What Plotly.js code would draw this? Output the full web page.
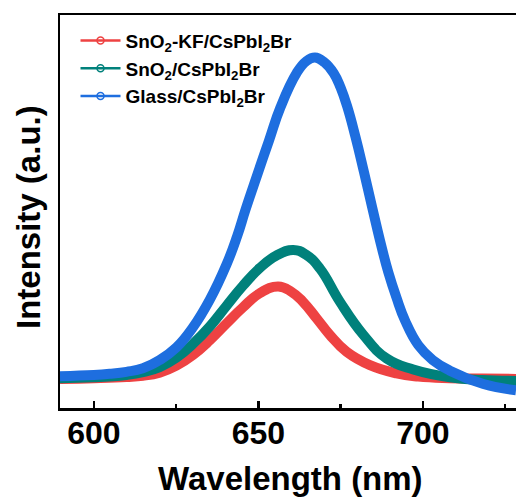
<!DOCTYPE html>
<html>
<head>
<meta charset="utf-8">
<script src="https://cdn.plot.ly/plotly-3.0.1.min.js"></script>
<style>html,body{margin:0;padding:0;background:#fff;}#chart{width:516px;height:497px;}</style>
</head>
<body>
<div id="chart"></div>
<script>
// Wavelength (nm) and PL intensity (a.u., normalized to plot height)
const names = ["SnO<sub>2</sub>-KF/CsPbI<sub>2</sub>Br", "SnO<sub>2</sub>/CsPbI<sub>2</sub>Br", "Glass/CsPbI<sub>2</sub>Br"];
const colors = ["#EE4242", "#00817B", "#1E6EDF"];

const redX = [589.7, 600.0, 609.9, 614.9, 620.0, 625.1, 630.1, 635.2, 640.3, 645.3, 650.4, 656.0, 660.0, 663.6, 667.7, 671.7, 676.8, 683.9, 692.0, 698.6, 708.2, 718.0, 728.3];
const redY = [0.074, 0.076, 0.079, 0.082, 0.090, 0.108, 0.135, 0.172, 0.215, 0.256, 0.292, 0.309, 0.296, 0.270, 0.228, 0.186, 0.143, 0.109, 0.088, 0.080, 0.076, 0.075, 0.074];

const greenX = [589.7, 600.0, 609.9, 614.9, 620.0, 625.1, 630.1, 635.2, 640.3, 645.3, 650.4, 655.5, 660.6, 664.5, 668.7, 674.8, 681.9, 689.0, 697.1, 708.2, 718.0, 728.3];
const greenY = [0.076, 0.078, 0.084, 0.091, 0.104, 0.128, 0.163, 0.207, 0.260, 0.311, 0.356, 0.388, 0.402, 0.390, 0.355, 0.270, 0.186, 0.126, 0.098, 0.078, 0.071, 0.069];

const blueX = [589.7, 600.0, 604.8, 609.9, 614.9, 620.0, 625.1, 630.1, 635.2, 640.3, 643.5, 646.1, 649.6, 653.2, 656.7, 661.6, 664.5, 667.2, 670.0, 672.9, 675.0, 677.0, 679.5, 682.1, 684.6, 687.0, 689.5, 692.0, 694.6, 698.6, 703.0, 708.2, 718.4, 728.3];
const blueY = [0.081, 0.084, 0.087, 0.092, 0.101, 0.122, 0.154, 0.205, 0.275, 0.365, 0.436, 0.505, 0.592, 0.680, 0.765, 0.852, 0.882, 0.892, 0.880, 0.852, 0.815, 0.767, 0.690, 0.600, 0.510, 0.425, 0.345, 0.280, 0.222, 0.160, 0.122, 0.095, 0.061, 0.045];

const xTickVals = [600, 650, 700];
const xTickText = ["600", "650", "700"];
const xTitle = "Wavelength (nm)";
const yTitle = "Intensity (a.u.)";

const seriesX = [redX, greenX, blueX];
const seriesY = [redY, greenY, blueY];

const FONT = "Arial, 'Liberation Sans', sans-serif";
const traces = [];
for (let i = 0; i < 3; i++) {
  traces.push({
    x: seriesX[i], y: seriesY[i], type: "scatter", mode: "lines",
    line: {color: colors[i], width: 10, shape: "spline", smoothing: 1.3},
    showlegend: false, hoverinfo: "skip"
  });
}
for (let i = 0; i < 3; i++) {
  traces.push({
    x: [null], y: [null], type: "scatter", mode: "lines+markers",
    name: names[i], legendgroup: "g" + i,
    line: {color: colors[i], width: 2.5},
    marker: {symbol: "circle-open", size: 7, color: colors[i], line: {width: 1.5, color: colors[i]}}
  });
}

const titleFont = {family: FONT, size: 33, weight: "bold", color: "#000"};
const layout = {
  width: 516, height: 497,
  margin: {l: 60, r: 0, t: 15, b: 89},
  paper_bgcolor: "#fff", plot_bgcolor: "#fff",
  font: {family: FONT, color: "#000"},
  showlegend: true,
  legend: {
    x: 0.034, y: 0.983, xanchor: "left", yanchor: "top",
    bgcolor: "rgba(0,0,0,0)", borderwidth: 0,
    font: {family: FONT, size: 19, weight: "bold", color: "#000"},
    tracegroupgap: 0, itemwidth: 40
  },
  xaxis: {
    range: [589.7, 728.3],
    tickvals: xTickVals, ticktext: xTickText,
    ticks: "inside", ticklen: 7, tickwidth: 2.5, tickcolor: "#000",
    minor: {dtick: 25, tick0: 600, ticks: "inside", ticklen: 4, tickwidth: 2.5, tickcolor: "#000"},
    showline: true, linewidth: 2.5, linecolor: "#000", mirror: true,
    showgrid: false, zeroline: false,
    ticklabelstandoff: -5,
    tickfont: {family: FONT, size: 32, weight: "bold", color: "#000"}
  },
  yaxis: {
    range: [0, 1],
    showticklabels: false, ticks: "",
    showline: true, linewidth: 2.5, linecolor: "#000", mirror: false,
    showgrid: false, zeroline: false
  },
  annotations: [
    {text: xTitle, xref: "paper", yref: "paper", x: 0.5055, y: -0.128, xanchor: "center", yanchor: "top",
     showarrow: false, font: titleFont},
    {text: yTitle, xref: "paper", yref: "paper", x: -0.0702, y: 0.486, xanchor: "center", yanchor: "middle",
     textangle: -90, showarrow: false, font: titleFont}
  ]
};

Plotly.newPlot("chart", traces, layout, {displayModeBar: false, staticPlot: true});
</script>
</body>
</html>
